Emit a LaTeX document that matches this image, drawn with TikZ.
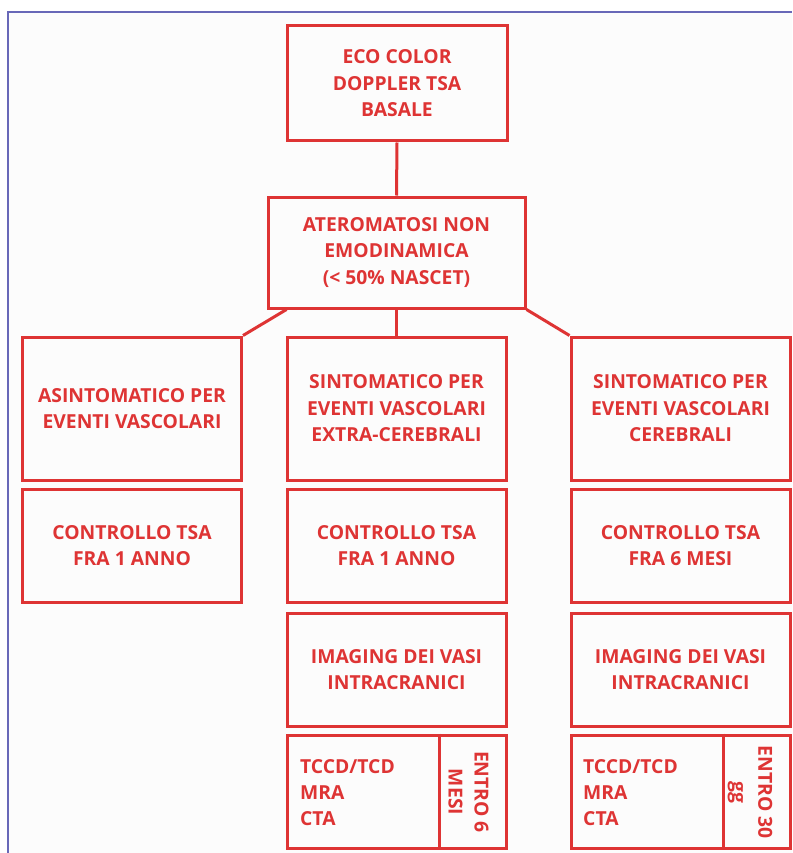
\documentclass[tikz,border=0pt]{standalone}
\usepackage{fontspec}
\setmainfont{Open Sans}
\begin{document}
\definecolor{flowred}{RGB}{222,52,52}
\definecolor{frameblue}{RGB}{104,104,184}
\begin{tikzpicture}[x=1pt,y=-1pt,
  card/.style={draw=flowred, line width=3pt, rectangle, inner sep=0pt,
    text=flowred, align=center, font=\fontsize{19.3}{26.5}\selectfont\bfseries},
  colcard/.style={card, minimum width=219pt},
  tall/.style={colcard, minimum height=143pt},
  short/.style={colcard, minimum height=113pt},
  link/.style={draw=flowred, line width=3pt},
  plain/.style={text=flowred, inner sep=0pt, font=\fontsize{19.3}{26}\selectfont\bfseries}
]
\useasboundingbox (0,0) rectangle (792,853);
% page frame
\fill[white] (0,0) rectangle (792,853);
\fill[black!1] (8,12) rectangle (792,853);
\draw[frameblue, line width=2pt] (8,853) -- (8,12) -- (792,12);

% top of the tree
\node[card, minimum width=220pt, minimum height=115pt] (eco) at (397,83.5)
  {ECO COLOR\\DOPPLER TSA\\BASALE};
\node[card, minimum width=257pt, minimum height=111pt] (atero) at (396.5,252.5)
  {ATEROMATOSI NON\\EMODINAMICA\\(< 50\% NASCET)};

% left column
\node[tall] (asi) at (132,408.5) {ASINTOMATICO PER\\EVENTI VASCOLARI};
\node[short] (ctlA) at (132,545.5) {CONTROLLO TSA\\FRA 1 ANNO};

% middle column
\node[tall] (extra) at (396.5,408.5) {SINTOMATICO PER\\EVENTI VASCOLARI\\EXTRA-CEREBRALI};
\node[short] (ctlB) at (396.5,545.5) {CONTROLLO TSA\\FRA 1 ANNO};
\node[short] (imgB) at (396.5,669.5) {IMAGING DEI VASI\\INTRACRANICI};
\node[short] (exB) at (396.5,791.5) {};
\draw[link] ([xshift=42.5pt]exB.north) -- ([xshift=42.5pt]exB.south);
\node[plain, align=left, anchor=west] (modB) at (300,793) {TCCD/TCD\\MRA\\CTA};
\node[plain, align=center, rotate=-90] (whenB) at (468.5,792) {ENTRO 6\\MESI};

% right column
\node[tall] (cere) at (680.5,408.5) {SINTOMATICO PER\\EVENTI VASCOLARI\\CEREBRALI};
\node[short] (ctlC) at (680.5,545.5) {CONTROLLO TSA\\FRA 6 MESI};
\node[short] (imgC) at (680.5,669.5) {IMAGING DEI VASI\\INTRACRANICI};
\node[short] (exC) at (680.5,791.5) {};
\draw[link] ([xshift=42.5pt]exC.north) -- ([xshift=42.5pt]exC.south);
\node[plain, align=left, anchor=west] (modC) at (583,793) {TCCD/TCD\\MRA\\CTA};
\node[plain, align=center, rotate=-90] (whenC) at (750,792) {ENTRO 30\\gg};

% connectors
\draw[link] (eco.south) -- (atero.north);
\draw[link] (atero.south) -- (extra.north);
\draw[link] ([xshift=20pt]atero.south west) -- (asi.north east);
\draw[link] (atero.south east) -- (cere.north west);
\end{tikzpicture}
\end{document}
